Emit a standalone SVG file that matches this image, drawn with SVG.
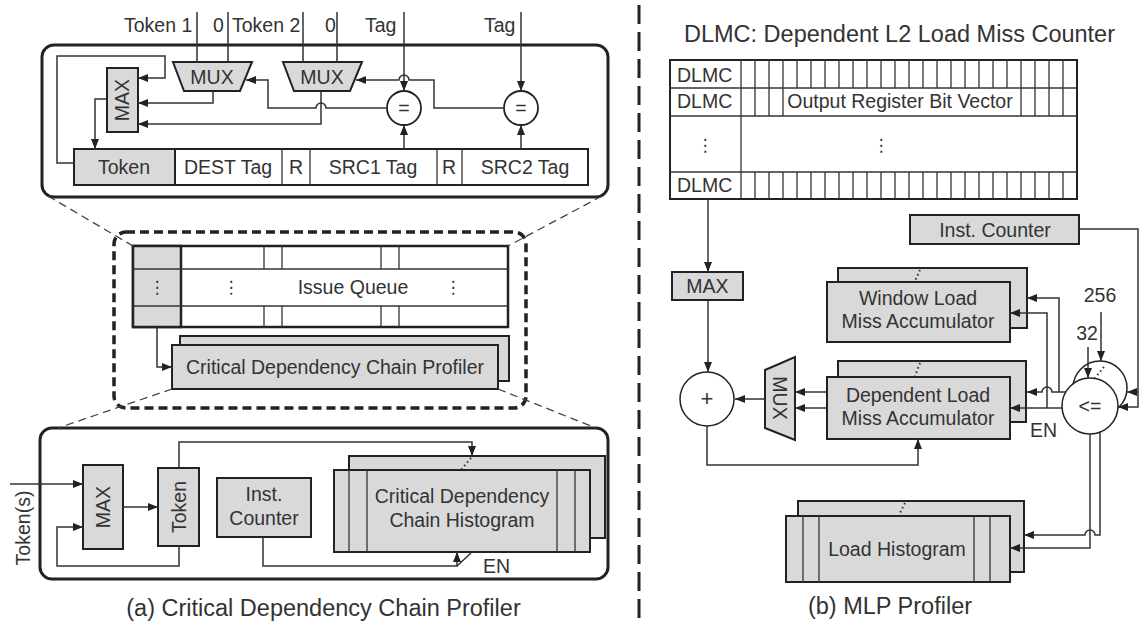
<svg xmlns="http://www.w3.org/2000/svg" width="1143" height="625" viewBox="0 0 1143 625">
<style>
.t{font-family:"Liberation Sans",Arial,sans-serif;font-size:19.5px;fill:#333}
.c{text-anchor:middle}
.cap{font-size:23.5px}
.dots{font-family:"DejaVu Sans",sans-serif;font-size:17px;fill:#333;text-anchor:middle}
.box{fill:#d9d9d9;stroke:#222;stroke-width:2}
.wb{fill:#fff;stroke:#222;stroke-width:2}
.ln{fill:none;stroke:#333;stroke-width:1.5}
.il{stroke:#333;stroke-width:1.3}
.ar{marker-end:url(#ah)}
.zl{fill:none;stroke:#444;stroke-width:1.3;stroke-dasharray:8 5}
.dt{fill:none;stroke:#333;stroke-width:2;stroke-dasharray:1.5 3}
</style>
<defs>
<marker id="ah" viewBox="0 0 10 8" refX="10" refY="4" markerWidth="10" markerHeight="8" markerUnits="userSpaceOnUse" orient="auto"><path d="M0,0 L10,4 L0,8 z" fill="#222"/></marker>
</defs>
<rect width="1143" height="625" fill="#fff"/>

<!-- divider -->
<line x1="639" y1="5" x2="639" y2="625" stroke="#222" stroke-width="3" stroke-dasharray="19 8"/>

<!-- ===== LEFT PANEL ===== -->
<g id="top-box">
<rect x="42" y="45" width="566" height="152" rx="12" fill="none" stroke="#222" stroke-width="3"/>
</g>
<g id="register">
<rect x="74" y="149" width="514" height="36" class="wb" stroke-width="1.5"/>
<line x1="282" y1="149" x2="282" y2="185" class="il"/>
<line x1="310" y1="149" x2="310" y2="185" class="il"/>
<line x1="437" y1="149" x2="437" y2="185" class="il"/>
<line x1="462" y1="149" x2="462" y2="185" class="il"/>
<rect x="74" y="149" width="101" height="36" class="box" stroke-width="2.5"/>
<text class="t c" x="124" y="174">Token</text>
<text class="t c" x="228" y="174">DEST Tag</text>
<text class="t c" x="296" y="174">R</text>
<text class="t c" x="373" y="174">SRC1 Tag</text>
<text class="t c" x="449" y="174">R</text>
<text class="t c" x="525" y="174">SRC2 Tag</text>
</g>
<g id="top-labels">
<text class="t" x="124" y="32">Token 1</text>
<text class="t" x="213" y="32">0</text>
<text class="t" x="232" y="32">Token 2</text>
<text class="t" x="325" y="32">0</text>
<text class="t" x="365" y="32">Tag</text>
<text class="t" x="484" y="32">Tag</text>
</g>
<g id="mux1"><polygon points="173,62 252,62 240,91 184,91" class="box"/><text class="t c" x="212" y="84">MUX</text></g>
<g id="mux2"><polygon points="283,62 362,62 350,91 294,91" class="box"/><text class="t c" x="322" y="84">MUX</text></g>
<g id="max-top"><rect x="107" y="68" width="31" height="64" class="box"/><text class="t c" transform="translate(122,100) rotate(-90)" dy="7">MAX</text></g>
<g id="eq1"><circle cx="404" cy="108" r="17" fill="#fff" stroke="#222" stroke-width="1.8"/><text class="t c" x="404" y="115">=</text></g>
<g id="eq2"><circle cx="521" cy="108" r="17" fill="#fff" stroke="#222" stroke-width="1.8"/><text class="t c" x="521" y="115">=</text></g>

<g id="issue-queue-frame">
<rect x="114" y="232" width="412" height="176" rx="12" fill="none" stroke="#222" stroke-width="3.5" stroke-dasharray="9 5"/>
</g>
<g id="issue-queue">
<rect x="133" y="246" width="375" height="81" fill="#fff" stroke="#222" stroke-width="2.5"/>
<rect x="133" y="246" width="48" height="81" fill="#d9d9d9" stroke="#222" stroke-width="2.5"/>
<line x1="133" y1="269" x2="508" y2="269" class="il"/>
<line x1="133" y1="306" x2="508" y2="306" class="il"/>
<line x1="264" y1="246" x2="264" y2="269" class="il"/><line x1="282" y1="246" x2="282" y2="269" class="il"/>
<line x1="381" y1="246" x2="381" y2="269" class="il"/><line x1="399" y1="246" x2="399" y2="269" class="il"/>
<line x1="264" y1="306" x2="264" y2="327" class="il"/><line x1="282" y1="306" x2="282" y2="327" class="il"/>
<line x1="381" y1="306" x2="381" y2="327" class="il"/><line x1="399" y1="306" x2="399" y2="327" class="il"/>
<text class="dots" x="157" y="293">⋮</text>
<text class="dots" x="231" y="293">⋮</text>
<text class="dots" x="453" y="293">⋮</text>
<text class="t c" x="353" y="294">Issue Queue</text>
</g>
<g id="cdc-profiler">
<rect x="180" y="336" width="329" height="45" class="box"/>
<rect x="172" y="345" width="326" height="44" class="box"/>
<text class="t c" x="335" y="374">Critical Dependency Chain Profiler</text>
</g>

<g id="bottom-box">
<rect x="40" y="428" width="568" height="151" rx="12" fill="none" stroke="#222" stroke-width="3"/>
</g>
<g id="tokens-label"><text class="t c" transform="translate(30,528) rotate(-90)">Token(s)</text></g>
<g id="max-bottom"><rect x="83" y="465" width="40" height="84" class="box"/><text class="t c" transform="translate(103,507) rotate(-90)" dy="7">MAX</text></g>
<g id="token-bottom"><rect x="158" y="468" width="41" height="78" class="box"/><text class="t c" transform="translate(178.5,507) rotate(-90)" dy="7">Token</text></g>
<g id="inst-counter-left"><rect x="217" y="478" width="94" height="59" class="box"/><text class="t c" x="264" y="501">Inst.</text><text class="t c" x="264" y="525">Counter</text></g>
<g id="cdc-histogram">
<rect x="349" y="456" width="256" height="82" class="box"/>
<rect x="334" y="470" width="256" height="82" class="box"/>
<line x1="349" y1="470" x2="349" y2="552" class="il"/><line x1="367" y1="470" x2="367" y2="552" class="il"/>
<line x1="557" y1="470" x2="557" y2="552" class="il"/><line x1="575" y1="470" x2="575" y2="552" class="il"/>
<text class="t c" x="462" y="503">Critical Dependency</text>
<text class="t c" x="462" y="527">Chain Histogram</text>
</g>
<g id="en-left"><text class="t" x="483" y="573">EN</text></g>
<g id="caption-a"><text class="t c cap" x="323.5" y="616">(a) Critical Dependency Chain Profiler</text></g>

<!-- ===== RIGHT PANEL ===== -->
<g id="title-b"><text class="t c cap" x="899.5" y="42">DLMC: Dependent L2 Load Miss Counter</text></g>
<g id="dlmc-table">
<rect x="670" y="60" width="407" height="139" fill="#fff" stroke="#222" stroke-width="2"/>
<line x1="670" y1="88" x2="1077" y2="88" class="il"/>
<line x1="670" y1="116" x2="1077" y2="116" class="il"/>
<line x1="670" y1="172" x2="1077" y2="172" class="il"/>
<line x1="741" y1="60" x2="741" y2="199" class="il"/>
<path class="il" fill="none" d="M755,60V88M769,60V88M783,60V88M797,60V88M811,60V88M825,60V88M839,60V88M853,60V88M867,60V88M881,60V88M895,60V88M909,60V88M923,60V88M937,60V88M951,60V88M965,60V88M979,60V88M993,60V88M1007,60V88M1021,60V88M1035,60V88M1049,60V88M1063,60V88"/>
<path class="il" fill="none" d="M755,172V199M769,172V199M783,172V199M797,172V199M811,172V199M825,172V199M839,172V199M853,172V199M867,172V199M881,172V199M895,172V199M909,172V199M923,172V199M937,172V199M951,172V199M965,172V199M979,172V199M993,172V199M1007,172V199M1021,172V199M1035,172V199M1049,172V199M1063,172V199"/>
<path class="il" fill="none" d="M755,88V116M769,88V116M783,88V116M1021,88V116M1035,88V116M1049,88V116M1063,88V116"/>
<text class="t" x="677" y="82">DLMC</text>
<text class="t" x="677" y="108">DLMC</text>
<text class="t" x="677" y="192">DLMC</text>
<text class="t c" x="900" y="108">Output Register Bit Vector</text>
<text class="dots" x="705" y="151">⋮</text>
<text class="dots" x="881" y="151">⋮</text>
</g>
<g id="max-right"><rect x="672" y="272" width="71" height="28" class="box"/><text class="t c" x="707.5" y="293">MAX</text></g>
<g id="adder"><circle cx="707" cy="399" r="27" fill="#fff" stroke="#222" stroke-width="1.5"/><text class="t c" x="707" y="406" style="font-size:22px">+</text></g>
<g id="mux-right"><polygon points="795,357 795,440 765,428 765,370" class="box"/><text class="t c" transform="translate(780,398) rotate(90)" dy="7">MUX</text></g>
<g id="inst-counter-right"><rect x="910" y="215" width="169" height="29" class="box"/><text class="t c" x="995" y="237">Inst. Counter</text></g>
<g id="window-acc">
<rect x="838" y="268" width="189" height="60" class="box"/>
<rect x="827" y="282" width="183" height="60" class="box"/>
<text class="t c" x="918" y="305">Window Load</text>
<text class="t c" x="918" y="328">Miss Accumulator</text>
</g>
<g id="dep-acc">
<rect x="838" y="361" width="188" height="61" class="box"/>
<rect x="827" y="377" width="183" height="62" class="box"/>
<text class="t c" x="918" y="402">Dependent Load</text>
<text class="t c" x="918" y="425">Miss Accumulator</text>
</g>
<g id="comparators">
<circle cx="1100" cy="388" r="27" fill="#fff" stroke="#222" stroke-width="1.5"/>
<circle cx="1090" cy="406" r="28" fill="#fff" stroke="#222" stroke-width="1.5"/>
<text class="t c" x="1090" y="413">&lt;=</text>
</g>
<g id="const-labels">
<text class="t c" x="1100" y="302">256</text>
<text class="t c" x="1087" y="340">32</text>
<text class="t" x="1030" y="437">EN</text>
</g>
<g id="load-histogram">
<rect x="798" y="501" width="226" height="71" class="box"/>
<rect x="786" y="516" width="224" height="66" class="box"/>
<line x1="803" y1="516" x2="803" y2="582" class="il"/><line x1="819" y1="516" x2="819" y2="582" class="il"/>
<line x1="974" y1="516" x2="974" y2="582" class="il"/><line x1="990" y1="516" x2="990" y2="582" class="il"/>
<text class="t c" x="897" y="556">Load Histogram</text>
</g>
<g id="caption-b"><text class="t c cap" x="890" y="614">(b) MLP Profiler</text></g>

<!-- ===== CONNECTORS ===== -->
<g id="connectors">
<path class="ln" d="M197,12V62M228,12V62M303,12V62M337,12V62"/>
<path class="ln ar" d="M404,12V91"/>
<path class="ln ar" d="M521,12V91"/>
<path class="ln ar" d="M404,149V125"/>
<path class="ln ar" d="M521,149V125"/>
<path class="ln ar" d="M387,108H326A5,5 0 0 0 316,108H268V80H246"/>
<path class="ln ar" d="M504,108H434V80H409A5,5 0 0 0 399,80H356"/>
<path class="ln ar" d="M321,91V124H138"/>
<path class="ln ar" d="M213,91V103H138"/>
<path class="ln ar" d="M74,163H57V56H165V78H138"/>
<path class="ln ar" d="M107,99H95V149"/>
<path class="zl" d="M48,196L133,246M602,196L508,246M172,389L58,428M498,389L596,428"/>
<path class="ln ar" d="M157,327V367H172"/>
<path class="ln ar" d="M10,484H83"/>
<path class="ln ar" d="M179,546V566H57V527H83"/>
<path class="ln ar" d="M123,507H158"/>
<path class="ln ar" d="M179,468V442H472V456"/>
<path class="ln ar" d="M263,537V566H457V552"/>
<path class="ln" d="M457,566L471,553"/>
<path class="dt" d="M471,458L461,470"/>

<path class="ln ar" d="M708,199V272"/>
<path class="ln ar" d="M708,300V372"/>
<path class="ln ar" d="M765,399H735"/>
<path class="ln ar" d="M827,392H795"/>
<path class="ln ar" d="M827,408H795"/>
<path class="ln ar" d="M707,426V465H918V439"/>
<path class="ln ar" d="M1079,229H1138V407H1118"/>
<path class="ln ar" d="M1138,392H1127"/>
<path class="ln ar" d="M1101,312V361"/>
<path class="ln ar" d="M1088,347V378"/>
<path class="ln ar" d="M1066,392H1052A5,5 0 0 0 1042,392H1027"/>
<path class="ln ar" d="M1059,392V298H1027"/>
<path class="ln ar" d="M1062,408H1010"/>
<path class="ln ar" d="M1047,408V313H1010"/>
<path class="ln ar" d="M1090,434V548H1010"/>
<path class="ln ar" d="M1100,432V535H1095A5,5 0 0 0 1085,535H1024"/>
<path class="dt" d="M920,270L915,281M920,363L915,376M905,503L899,515M1104,367L1095,378"/>
</g>
</svg>
